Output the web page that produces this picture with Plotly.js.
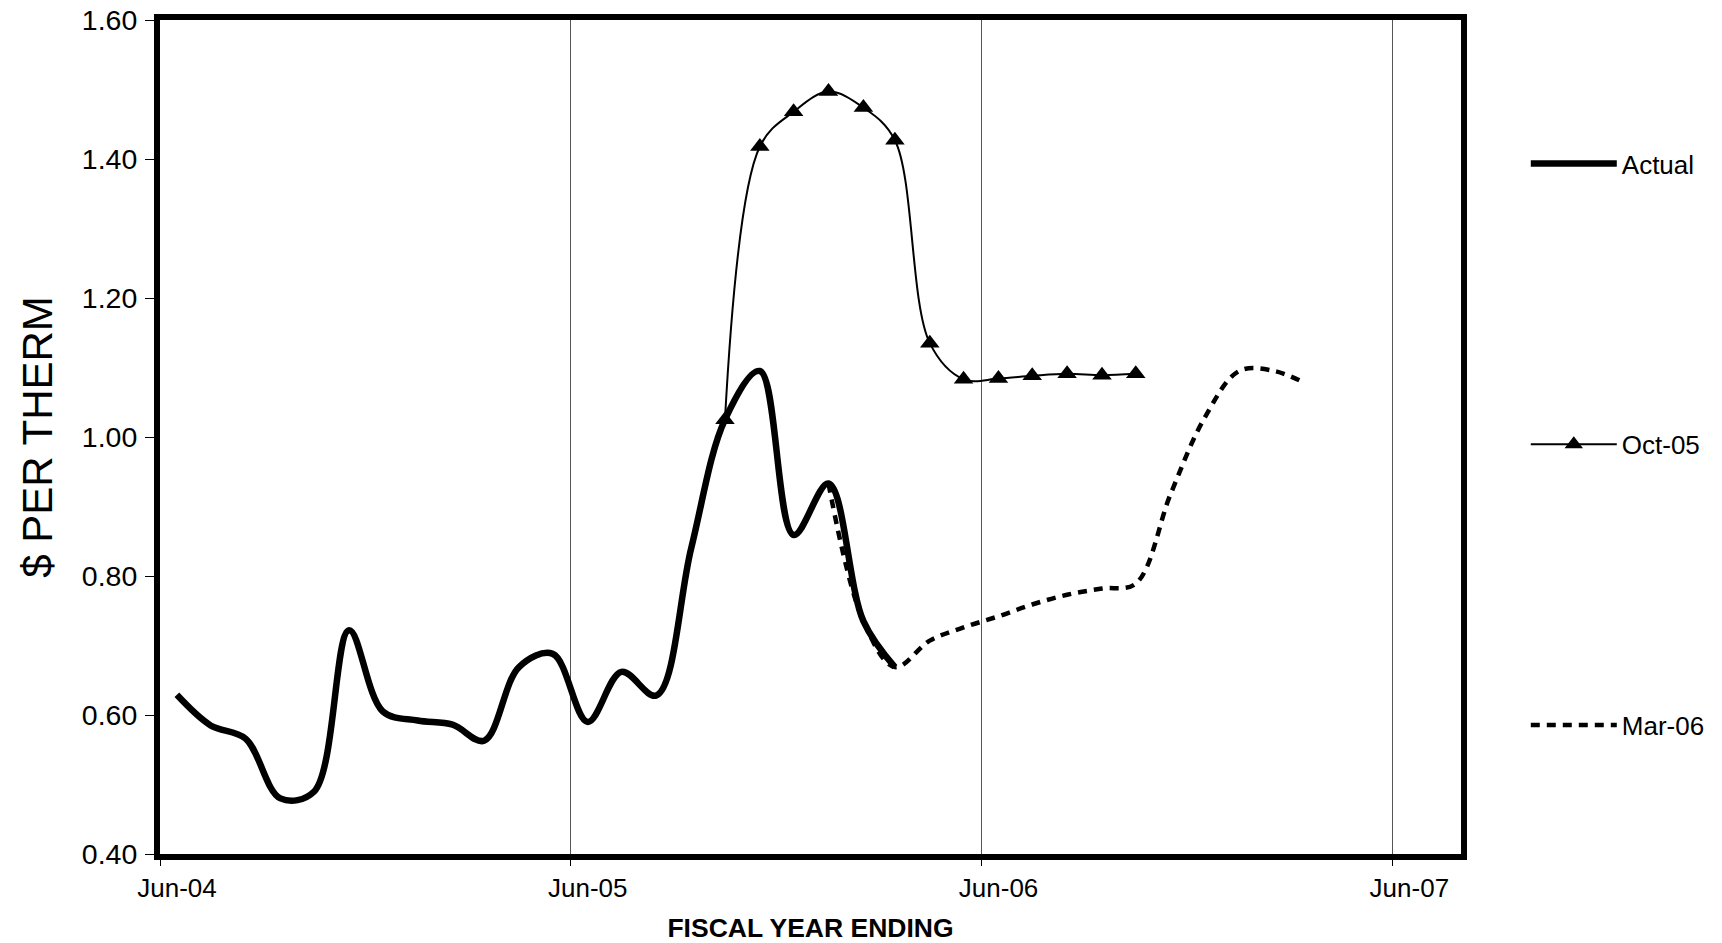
<!DOCTYPE html>
<html><head><meta charset="utf-8">
<script src="https://cdn.plot.ly/plotly-3.0.1.min.js"></script>
<style>html,body{margin:0;padding:0;background:#fff}#chart{width:1722px;height:943px}</style>
</head><body><div id="chart"></div>
<script>
// ---- data (monthly, $ per therm) ----
const actualMonths = ['2004-06','2004-07','2004-08','2004-09','2004-10','2004-11','2004-12',
  '2005-01','2005-02','2005-03','2005-04','2005-05','2005-06','2005-07','2005-08','2005-09',
  '2005-10','2005-11','2005-12','2006-01','2006-02','2006-03'];
const actualValues = [0.629,0.585,0.566,0.480,0.490,0.722,0.605,
  0.592,0.586,0.563,0.669,0.688,0.590,0.662,0.628,0.840,
  1.025,1.095,0.859,0.933,0.735,0.669];

const oct05Months = ['2005-10','2005-11','2005-12','2006-01','2006-02','2006-03','2006-04',
  '2006-05','2006-06','2006-07','2006-08','2006-09','2006-10'];
const oct05Values = [1.025,1.418,1.468,1.497,1.474,1.427,1.135,
  1.083,1.084,1.088,1.091,1.089,1.091];

const mar06Months = ['2006-01','2006-02','2006-03','2006-04','2006-05','2006-06','2006-07',
  '2006-08','2006-09','2006-10','2006-11','2006-12','2007-01','2007-02','2007-03'];
const mar06Values = [0.933,0.735,0.669,0.707,0.726,0.742,0.759,
  0.773,0.782,0.789,0.918,1.027,1.095,1.095,1.077];

const seriesNames = ['Actual','Oct-05','Mar-06'];
const xTickDates = ['2004-06-01','2005-06-01','2006-06-01','2007-06-01'];
const xTickLabels = ['Jun-04','Jun-05','Jun-06','Jun-07'];
const xRange = ['2004-06-01','2007-08-01'];
const yTicks = [0.40,0.60,0.80,1.00,1.20,1.40,1.60];

// months are plotted in the middle of each month slot
const mid = m => m + '-16';

const FONT = 'Liberation Sans, Arial, Helvetica, sans-serif';

const traces = [
  {
    x: actualMonths.map(mid), y: actualValues, name: seriesNames[0],
    type: 'scatter', mode: 'lines', legendgroup: 'a',
    line: {color: '#000', width: 6.5, shape: 'spline', smoothing: 1}
  },
  {
    x: oct05Months.map(mid), y: oct05Values, name: seriesNames[1],
    type: 'scatter', mode: 'lines+markers', legendgroup: 'b',
    line: {color: '#000', width: 2, shape: 'spline', smoothing: 1},
    marker: {symbol: 'triangle-up', size: 17, color: '#000'}
  },
  {
    x: mar06Months.map(mid), y: mar06Values, name: seriesNames[2],
    type: 'scatter', mode: 'lines', legendgroup: 'c',
    line: {color: '#000', width: 4.5, shape: 'spline', smoothing: 1, dash: '9px,7px'}
  }
];

const layout = {
  width: 1722, height: 943,
  margin: {l: 160, r: 258, t: 20, b: 89},
  paper_bgcolor: '#fff', plot_bgcolor: '#fff',
  font: {family: FONT, color: '#000'},
  showlegend: true,
  hovermode: false,
  xaxis: {
    type: 'date', range: xRange,
    tickmode: 'array', tickvals: xTickDates, ticktext: xTickLabels,
    ticks: 'outside', ticklen: 6, tickwidth: 1, tickcolor: '#000',
    ticklabelshift: 17, ticklabelstandoff: 0,
    tickfont: {size: 26, family: FONT},
    showgrid: true, gridcolor: '#555', gridwidth: 1,
    showline: true, linecolor: '#000', linewidth: 6, mirror: true,
    zeroline: false,
    title: {text: 'FISCAL YEAR ENDING', font: {size: 26.5, family: FONT, weight: 'bold'}, standoff: 18}
  },
  yaxis: {
    range: [0.4, 1.6],
    tickmode: 'array', tickvals: yTicks, tickformat: '.2f',
    ticks: 'outside', ticklen: 9, tickwidth: 1, tickcolor: '#000',
    ticklabelstandoff: 2,
    tickfont: {size: 28.5, family: FONT},
    showgrid: false,
    showline: true, linecolor: '#000', linewidth: 6, mirror: true,
    zeroline: false,
    title: {text: '$ PER THERM', font: {size: 42, family: FONT}, standoff: 18}
  },
  legend: {
    x: 1.0498, xanchor: 'left', y: 0.856, yanchor: 'top',
    bgcolor: 'rgba(0,0,0,0)', borderwidth: 0,
    font: {size: 26, family: FONT},
    itemwidth: 86, tracegroupgap: 244, traceorder: 'grouped'
  }
};

Plotly.newPlot('chart', traces, layout, {staticPlot: true, displayModeBar: false});
</script>
</body></html>
